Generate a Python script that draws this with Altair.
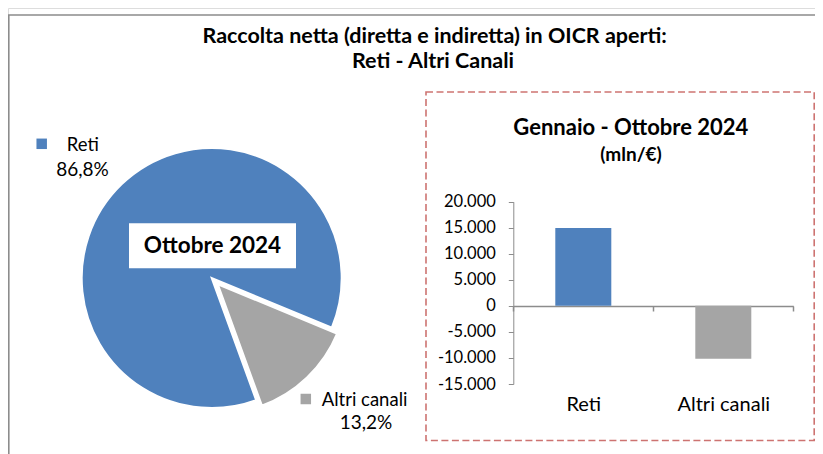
import math
import altair as alt
import pandas as pd

# ---- data ----
categories = ["Reti", "Altri canali"]
pie_share = [86.8, 13.2]            # % Ottobre 2024
bar_values = [14950, -10150]        # mln/€ Gennaio - Ottobre 2024
y_ticks = [20000, 15000, 10000, 5000, 0, -5000, -10000, -15000]
colors = ["#4F81BD", "#A5A5A5"]

title_lines = ["Raccolta netta (diretta e indiretta) in OICR aperti:", "Reti - Altri Canali"]
pie_title = "Ottobre 2024"
bar_title = ["Gennaio - Ottobre 2024", "(mln/€)"]

FONT = "Lato"
W, H = 807, 446

pie_df = pd.DataFrame({"cat": categories, "share": pie_share})
bar_df = pd.DataFrame({"cat": categories, "val": bar_values})

color_scale = alt.Scale(domain=categories, range=colors)
col = alt.Color("cat:N", scale=color_scale, legend=None)


def one(text):
    return alt.Chart(pd.DataFrame({"t": [text]}))


# outer border
border = one("b").mark_rect(fillOpacity=0, stroke="#8C8C8C", strokeWidth=1.6).encode(
    x=alt.value(0.8), x2=alt.value(1200), y=alt.value(7), y2=alt.value(900)
)

# main title
t1 = one(title_lines[0]).mark_text(font=FONT, fontSize=21.5, fontWeight="bold", align="center",
                                   baseline="alphabetic", color="#000").encode(
    text="t:N", x=alt.value(426.7), y=alt.value(35))
t2 = one(title_lines[1]).mark_text(font=FONT, fontSize=21.5, fontWeight="bold", align="center",
                                   baseline="alphabetic", color="#000").encode(
    text="t:N", x=alt.value(425), y=alt.value(59.5))

# pie
start = math.radians(160)
theta_scale = alt.Scale(domain=[0, 100], range=[start, start + 2 * math.pi])
pie_base = alt.Chart(pie_df).transform_stack(
    stack="share", groupby=[], as_=["s0", "s1"], sort=[alt.SortField("cat", order="descending")]
)
CX, CY, R = 203.7, 270, 130
pie_main = pie_base.transform_filter(alt.datum.cat == categories[0]).mark_arc(
    radius=R, stroke="white", strokeWidth=2
).encode(theta=alt.Theta("s0:Q", scale=theta_scale), theta2="s1:Q", color=col,
         x=alt.value(CX), y=alt.value(CY))
pie_expl = pie_base.transform_filter(alt.datum.cat == categories[1]).mark_arc(
    radius=R, stroke="white", strokeWidth=2.5, xOffset=5.6, yOffset=5.8
).encode(theta=alt.Theta("s0:Q", scale=theta_scale), theta2="s1:Q", color=col,
         x=alt.value(CX), y=alt.value(CY))

box = one(pie_title).mark_rect(fill="white").encode(
    x=alt.value(121), x2=alt.value(288), y=alt.value(215.3), y2=alt.value(260.3))
box_t = one(pie_title).mark_text(font=FONT, fontSize=22.5, fontWeight="bold", color="#000",
                                 align="center", baseline="middle").encode(
    text="t:N", x=alt.value(204.5), y=alt.value(238))

# pie labels
lab = alt.Chart(pie_df).transform_calculate(pct="datum.share / 100")


def pie_label(cat, sq, name_xy, pct_xy):
    d = lab.transform_filter(alt.datum.cat == cat)
    s = d.mark_square(size=110, opacity=1).encode(x=alt.value(sq[0]), y=alt.value(sq[1]), color=col)
    n = d.mark_text(font=FONT, fontSize=18.5, align="left", baseline="middle", color="#000").encode(
        text="cat:N", x=alt.value(name_xy[0]), y=alt.value(name_xy[1]))
    p = d.mark_text(font=FONT, fontSize=19, align="center", baseline="middle", color="#000").encode(
        text=alt.Text("pct:Q", format=".1%"), x=alt.value(pct_xy[0]), y=alt.value(pct_xy[1]))
    return [s, n, p]


labels = pie_label(categories[0], (33.7, 135.8), (58.7, 137), (74.5, 162)) + \
    pie_label(categories[1], (297.8, 391), (313.7, 392), (358, 415))

# dashed box
dbox = one("d").mark_rect(fillOpacity=0, stroke="#C0504D", strokeOpacity=0.8, strokeWidth=1.6,
                          strokeDash=[7, 3.5]).encode(
    x=alt.value(418), x2=alt.value(806.2), y=alt.value(84), y2=alt.value(432.5))

bt1 = one(bar_title[0]).mark_text(font=FONT, fontSize=22, fontWeight="bold", color="#000",
                                  align="center", baseline="middle").encode(
    text="t:N", x=alt.value(622.8), y=alt.value(119.5))
bt2 = one(bar_title[1]).mark_text(font=FONT, fontSize=19, fontWeight="bold", color="#000",
                                  align="center", baseline="middle").encode(
    text="t:N", x=alt.value(623), y=alt.value(147))

AX = 505.3
Y_TOP, Y_BOT = 193.7, 376
ZERO = 298
bars = alt.Chart(bar_df).mark_bar(width=alt.RelativeBandSize(0.4)).encode(
    x=alt.X("cat:N", sort=categories, title=None,
            scale=alt.Scale(range=[AX, AX + 280], paddingInner=0, paddingOuter=0),
            axis=alt.Axis(orient="bottom", offset=-(H - ZERO), tickBand="extent", ticks=True,
                          tickSize=5, labelPadding=83, labelAngle=0, labelFont=FONT,
                          labelFontSize=20, labelColor="#000", domainColor="#8C8C8C",
                          tickColor="#8C8C8C", domainWidth=1.5, tickWidth=1.5)),
    y=alt.Y("val:Q", title=None,
            scale=alt.Scale(domain=[-15000, 20000], range=[Y_BOT, Y_TOP], nice=False),
            axis=alt.Axis(orient="left", offset=-AX, values=y_ticks, format=",d", grid=False,
                          tickSize=5, labelPadding=13, labelFont=FONT, labelFontSize=16.5,
                          labelColor="#000", domainColor="#8C8C8C", tickColor="#8C8C8C",
                          domainWidth=1, tickWidth=1)),
    color=col,
)

chart = alt.layer(
    border, t1, t2, pie_main, pie_expl, box, box_t, *labels, dbox, bt1, bt2, bars
).properties(
    width=W, height=H, autosize=alt.AutoSizeParams(type="none"), padding=0
).configure_view(stroke=None).configure(
    locale={"number": {"decimal": ",", "thousands": ".", "grouping": [3],
                       "currency": ["", "€"], "minus": "-"}}
)

chart.save("out.html", embed_options={"renderer": "svg", "actions": False})
